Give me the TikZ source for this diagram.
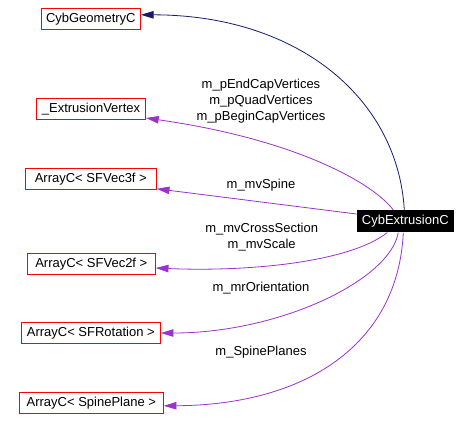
\documentclass[tikz,border=0pt]{standalone}
\usepackage{fontspec}
\setmainfont{Liberation Sans}
\usetikzlibrary{arrows.meta,calc,positioning}
\definecolor{boxred}{HTML}{FF0000}
\definecolor{navy}{HTML}{191970}
\definecolor{orchid}{HTML}{9A32CD}

\begin{document}
\begin{tikzpicture}[
    x=0.75pt, y=-0.75pt,
    font=\fontsize{9.75}{12}\selectfont,
    classbox/.style={draw=boxred, line width=0.75pt, rectangle, inner xsep=3.6pt, inner ysep=0pt, minimum height=15.75pt},
    mainbox/.style={fill=black, text=white, rectangle, inner xsep=3.6pt, inner ysep=0pt, minimum height=16.5pt},
    inherit/.style={-{Triangle[length=9.5pt, width=5.6pt]}, draw=navy, line width=0.6pt},
    member/.style={-{Triangle[length=9.5pt, width=5.6pt]}, draw=orchid, line width=0.6pt},
    role/.style={align=center, inner sep=0pt}
]

% Canvas, in pixels of the original.
\useasboundingbox (0,0) rectangle (471,433);

% Classes.
\node[classbox, minimum width=74.25pt] (Geometry) at (90.8,18.8) {CybGeometryC};
\node[classbox, minimum width=81.75pt] (Vertex) at (91,109) {\_ExtrusionVertex};
\node[classbox, minimum width=98.25pt] (Vec3f) at (90.8,178.8) {ArrayC< SFVec3f >};
\node[classbox, minimum width=96pt] (Vec2f) at (91.3,264) {ArrayC< SFVec2f >};
\node[classbox, minimum width=104.25pt] (Rotation) at (90.8,333) {ArrayC< SFRotation >};
\node[classbox, minimum width=108pt] (SpinePlane) at (91.3,402.8) {ArrayC< SpinePlane >};
\node[mainbox, minimum width=72.75pt] (Extrusion) at (405.3,221.3) {CybExtrusionC};

% Base class.
\draw[inherit] ($(Extrusion.north)+(-1,0)$) .. controls (398,100) and (300,15) .. ($(Geometry.east)+(0,-4)$);

% Members.
\draw[member] ($(Extrusion.north)+(-12,0)$) .. controls (375,185) and (300,140) .. ($(Vertex.east)+(0,9)$);
\draw[member] (Extrusion.west |- 0,214) -- ($(Vec3f.east)+(0,10)$);
\draw[member] ($(Extrusion.south)+(-18,0)$) .. controls (350,262) and (250,272) .. ($(Vec2f.east)+(0,4)$);
\draw[member] ($(Extrusion.south)+(-7,0)$) .. controls (390,280) and (280,333) .. (Rotation.east);
\draw[member] ($(Extrusion.south)+(-2,0)$) .. controls (398,345) and (305,405) .. ($(SpinePlane.east)+(0,3)$);

% Member names.
\node[role] (capLabel) at (261,100.7) {m\_pEndCapVertices\\m\_pQuadVertices\\m\_pBeginCapVertices};
\node[role] (spineLabel) at (261,185) {m\_mvSpine};
\node[role] (crossLabel) at (261.7,236.7) {m\_mvCrossSection\\m\_mvScale};
\node[role] (orientLabel) at (261,287.7) {m\_mrOrientation};
\node[role] (planesLabel) at (261,351.7) {m\_SpinePlanes};

\end{tikzpicture}
\end{document}
